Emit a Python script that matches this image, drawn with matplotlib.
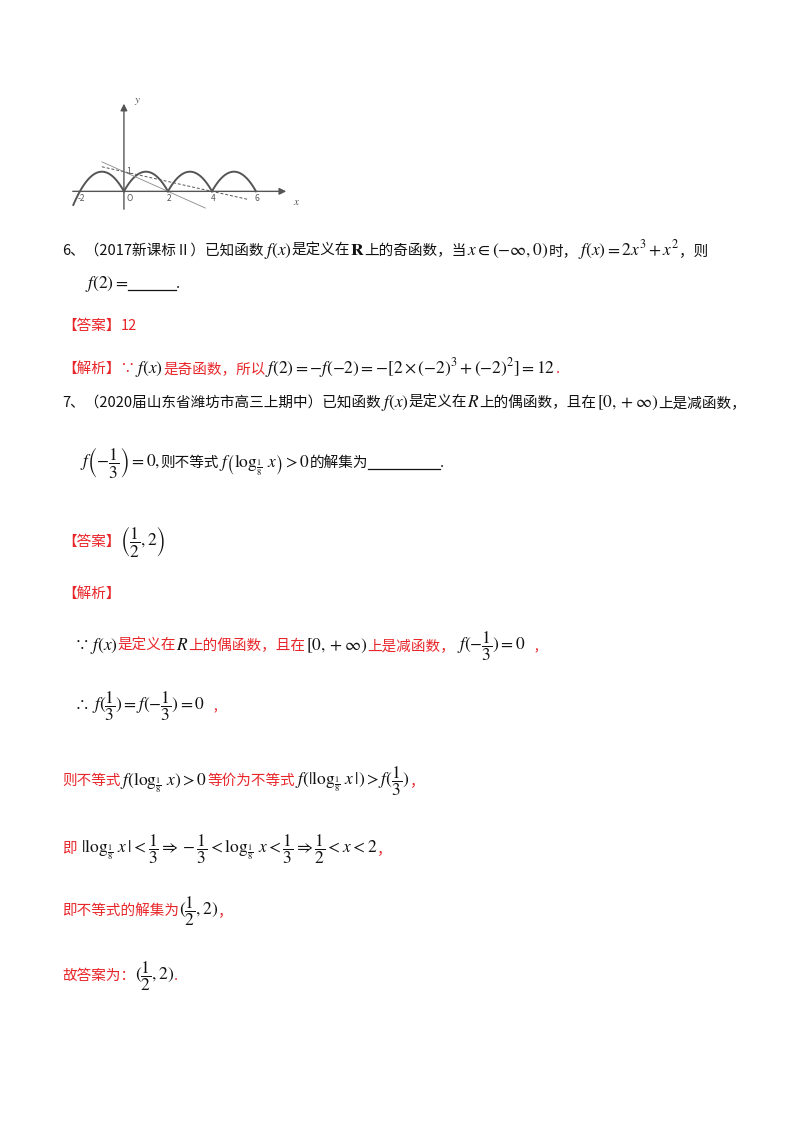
import matplotlib.pyplot as plt
import numpy as np

plt.rcParams['font.family'] = ['Noto Sans CJK SC', 'DejaVu Sans']
plt.rcParams['mathtext.fontset'] = 'stix'

# chart data
arch_starts = [-2, 0, 2, 4]
tick_x = [-2, 2, 4, 6]
line_a = ([-1.0, 5.6], [1.25, -0.4])     # through (0,1) and (4,0)
line_b = ([-1.0, 3.7], [1.5, -0.85])     # through (0,1) and (2,0)

RED = '#e8262a'
BLK = '#111111'

fig = plt.figure(figsize=(8, 11.32), dpi=100)
ax0 = fig.add_axes([0, 0, 1, 1])
ax0.set_xlim(0, 800)
ax0.set_ylim(1132, 0)
ax0.axis('off')

# ---- small graph ----
ax = fig.add_axes([70 / 800, (1132 - 212) / 1132, 230 / 800, 117 / 1132])
ax.set_xlim(-2.45, 8.0)
ax.set_ylim(-1.05, 4.9)
ax.axis('off')
g = '#555555'
for k in arch_starts:
    lo = k - 0.3 if k == -2 else k
    xs = np.linspace(lo, k + 2, 60)
    ax.plot(xs, 1 - (xs - k - 1) ** 2, color=g, lw=1.4)
ax.annotate('', xy=(7.5, 0), xytext=(-2.45, 0),
            arrowprops=dict(arrowstyle='-|>', color=g, lw=1))
ax.annotate('', xy=(0, 4.6), xytext=(0, -1.05),
            arrowprops=dict(arrowstyle='-|>', color=g, lw=1))
ax.plot(*line_a, color=g, lw=0.7, ls=(0, (3, 2)))
ax.plot(*line_b, color='#888888', lw=0.6)
for t in tick_x:
    ax.text(t + 0.05, -0.12, str(t), fontsize=6, color=g, ha='center', va='top')
ax.text(0.1, -0.12, 'O', fontsize=6, color=g, style='italic', va='top')
ax.text(0.1, 1.0, '1', fontsize=6, color=g, va='center')
ax.text(8.0, -0.7, r'$x$', fontsize=8, color=g, ha='right')
ax.text(0.45, 4.5, r'$y$', fontsize=8, color=g)

fig.canvas.draw()
renderer = fig.canvas.get_renderer()


def run(x, y, parts, size=10.5):
    for s, c in parts:
        sz = 12.5 if s.startswith('$') else size
        t = ax0.text(x, y, s, color=c, fontsize=sz, ha='left', va='baseline')
        x += t.get_window_extent(renderer).width
    return x


def blank(x, y, w):
    ax0.plot([x, x + w], [y + 2, y + 2], color=BLK, lw=0.9)
    return x + w


run(62, 255, [('6、（2017新课标Ⅱ）已知函数', BLK), (r'$f(x)$', BLK), ('是定义在', BLK),
              (r'$\mathbf{R}$', BLK), ('上的奇函数，当', BLK), (r'$x\in(-\infty,0)$', BLK),
              ('时，', BLK), (r'$f(x)=2x^3+x^2$', BLK), ('，则', BLK)])
x = run(85, 288, [(r'$f(2)=$', BLK)])
x = blank(x, 288, 48)
run(x, 288, [('.', BLK)])
run(62, 330, [('【答案】', RED), ('12', RED)])
run(62, 373, [('【解析】∵', RED), (r'$f(x)$', BLK), ('是奇函数，所以', RED),
              (r'$f(2)=-f(-2)=-[2\times(-2)^3+(-2)^2]=12$', BLK), ('.', RED)])
run(62, 407, [('7、（2020届山东省潍坊市高三上期中）已知函数', BLK), (r'$f\left(x\right)$', BLK),
              ('是定义在', BLK), (r'$R$', BLK), ('上的偶函数，且在', BLK),
              (r'$\left[0,+\infty\right)$', BLK), ('上是减函数，', BLK)])
x = run(80, 467, [(r'$f\left(-\dfrac{1}{3}\right)=0,$', BLK), ('则不等式', BLK),
                  (r'$f\left(\log_{\frac{1}{8}}\,x\right)>0$', BLK), ('的解集为', BLK)])
x = blank(x, 467, 72)
run(x, 467, [('.', BLK)])
run(62, 546, [('【答案】', RED), (r'$\left(\dfrac{1}{2},2\right)$', BLK)])
run(62, 598, [('【解析】', RED)])
run(75, 650, [('∵', BLK), (r'$f(x)$', BLK), ('是定义在', RED), (r'$R$', BLK),
              ('上的偶函数，且在', RED), (r'$[0,+\infty)$', BLK), ('上是减函数，', RED),
              (r'$\ f(-\dfrac{1}{3})=0$', BLK), ('   ,', RED)])
run(75, 710, [('∴', BLK), (r'$\ f(\dfrac{1}{3})=f(-\dfrac{1}{3})=0$', BLK), ('   ,', RED)])
run(62, 785, [('则不等式', RED), (r'$f(\log_{\frac{1}{8}}\,x)>0$', BLK), ('等价为不等式', RED),
              (r'$f(|\log_{\frac{1}{8}}\,x\,|)>f(\dfrac{1}{3})$', BLK), ('，', RED)])
run(62, 853, [('即', RED), (r'$\ |\log_{\frac{1}{8}}\,x\,|<\dfrac{1}{3}\Rightarrow-\dfrac{1}{3}<\log_{\frac{1}{8}}\,x<\dfrac{1}{3}\Rightarrow\dfrac{1}{2}<x<2$', BLK),
              ('，', RED)])
run(62, 915, [('即不等式的解集为', RED), (r'$(\dfrac{1}{2},2)$', BLK), ('，', RED)])
run(62, 980, [('故答案为：', RED), (r'$(\dfrac{1}{2},2)$', BLK), ('.', RED)])

fig.savefig('out.png', dpi=100)
